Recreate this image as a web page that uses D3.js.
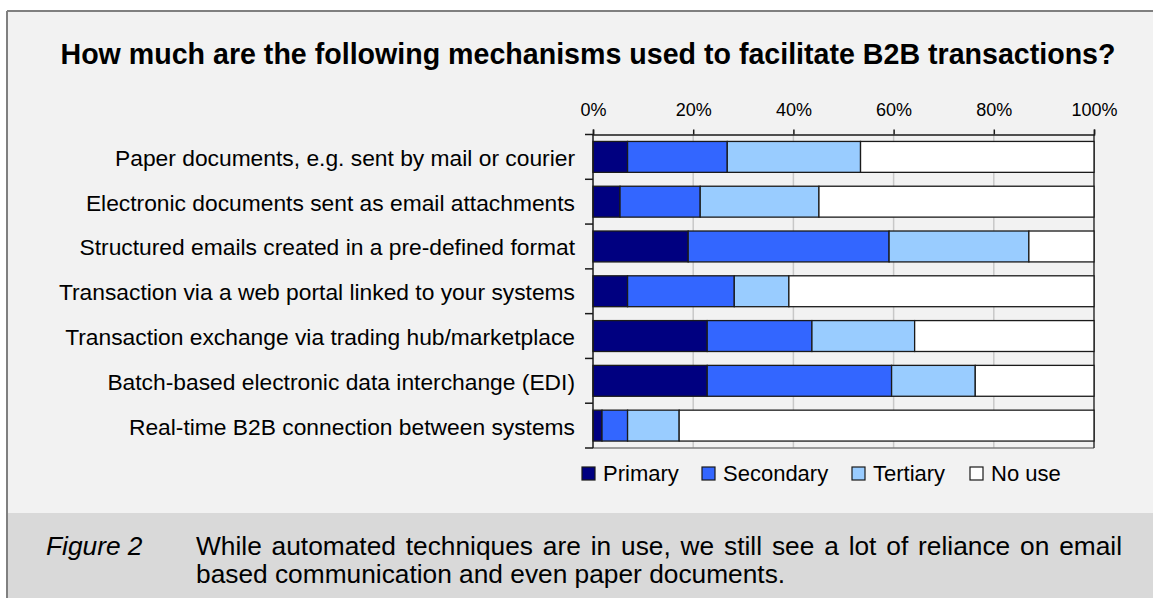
<!DOCTYPE html>
<html>
<head>
<meta charset="utf-8">
<script src="https://cdn.jsdelivr.net/npm/d3@7/dist/d3.min.js"></script>
<style>
  html, body { margin: 0; padding: 0; background: #ffffff; }
  svg { display: block; font-family: "Liberation Sans", Arial, sans-serif; }
</style>
</head>
<body>
<svg id="chart" width="1153" height="598"></svg>
<script>
// Survey categories (top to bottom)
const categories = [
  "Paper documents, e.g. sent by mail or courier",
  "Electronic documents sent as email attachments",
  "Structured emails created in a pre-defined format",
  "Transaction via a web portal linked to your systems",
  "Transaction exchange via trading hub/marketplace",
  "Batch-based electronic data interchange (EDI)",
  "Real-time B2B connection between systems"
];

// Share of respondents (%) per usage level
const seriesNames = ["Primary", "Secondary", "Tertiary", "No use"];
const primary   = [6.9, 5.4, 19.0, 6.9, 22.8, 22.8, 1.8];
const secondary = [19.9, 16.0, 40.1, 21.3, 20.9, 36.8, 5.1];
const tertiary  = [26.6, 23.7, 27.9, 10.9, 20.5, 16.7, 10.3];
const noUse     = [46.6, 54.9, 13.0, 60.9, 35.8, 23.7, 82.8];

const tickValues = [0, 20, 40, 60, 80, 100];
const colors = ["#000080", "#3366ff", "#99ccff", "#ffffff"];

const titleText = "How much are the following mechanisms used to facilitate B2B transactions?";
const figureLabel = "Figure 2";
const captionLines = [
  "While automated techniques are in use, we still see a lot of reliance on email",
  "based communication and even paper documents."
];

const svg = d3.select("#chart");
const W = 1153, H = 598;

// Panel backgrounds
svg.append("rect").attr("x", 7).attr("y", 11).attr("width", W - 7).attr("height", 502).attr("fill", "#f2f2f2");
svg.append("rect").attr("x", 7).attr("y", 513).attr("width", W - 7).attr("height", H - 513).attr("fill", "#d9d9d9");
svg.append("line").attr("x1", 7).attr("x2", W).attr("y1", 11).attr("y2", 11).attr("stroke", "#808080").attr("stroke-width", 2);
svg.append("line").attr("x1", 7).attr("x2", 7).attr("y1", 11).attr("y2", H).attr("stroke", "#808080").attr("stroke-width", 2);

// Title
svg.append("text")
  .attr("x", 588).attr("y", 64)
  .attr("text-anchor", "middle")
  .attr("font-size", 28.6).attr("font-weight", "bold").attr("fill", "#000")
  .text(titleText);

// Plot area
const plot = { left: 593, right: 1094, top: 134.5, bottom: 448 };

const x = d3.scaleLinear().domain([0, 100]).range([plot.left, plot.right]);
const y = d3.scaleBand().domain(categories).range([plot.top, plot.bottom])
  .paddingInner(0.31).paddingOuter(0.155);

const rows = categories.map((c, i) => ({
  category: c, Primary: primary[i], Secondary: secondary[i], Tertiary: tertiary[i], "No use": noUse[i]
}));
const stacked = d3.stack().keys(seriesNames)(rows);

const g = svg.append("g");

// Vertical gridlines
g.selectAll("line.grid").data(tickValues.filter(v => v > 0 && v < 100)).enter()
  .append("line").attr("class", "grid")
  .attr("x1", d => x(d)).attr("x2", d => x(d))
  .attr("y1", plot.top).attr("y2", plot.bottom)
  .attr("stroke", "#c8c8c8").attr("stroke-width", 1.5);

// Bottom frame
g.append("line").attr("x1", plot.left).attr("x2", plot.right)
  .attr("y1", plot.bottom).attr("y2", plot.bottom)
  .attr("stroke", "#7f7f7f").attr("stroke-width", 1.5);
// Right frame
g.append("line").attr("x1", plot.right).attr("x2", plot.right)
  .attr("y1", plot.top).attr("y2", plot.bottom)
  .attr("stroke", "#333").attr("stroke-width", 1.5);

// Stacked bars
g.selectAll("g.series").data(stacked).enter()
  .append("g").attr("class", "series")
  .attr("fill", (d, i) => colors[i])
  .selectAll("rect").data(d => d).enter()
  .append("rect")
  .attr("x", d => x(d[0]))
  .attr("width", d => x(d[1]) - x(d[0]))
  .attr("y", d => y(d.data.category))
  .attr("height", y.bandwidth())
  .attr("stroke", "#1a1a1a").attr("stroke-width", 1.3);

// Top axis
const xAxis = d3.axisTop(x).tickValues(tickValues).tickFormat(d => d + "%").tickSize(5).tickPadding(14);
const ax = svg.append("g").attr("transform", `translate(0,${plot.top})`).call(xAxis);
ax.select(".domain").attr("stroke", "#1a1a1a").attr("stroke-width", 1.5);
ax.selectAll(".tick line").attr("stroke", "#1a1a1a").attr("stroke-width", 1.5);
ax.selectAll(".tick text").attr("font-size", 18).attr("fill", "#000")
  .attr("font-family", "Liberation Sans, Arial, sans-serif");

// Left axis line with ticks at category boundaries
const step = y.step();
const boundaries = d3.range(categories.length + 1).map(i => plot.top + i * step);
g.append("line").attr("x1", plot.left).attr("x2", plot.left)
  .attr("y1", plot.top).attr("y2", plot.bottom)
  .attr("stroke", "#1a1a1a").attr("stroke-width", 1.5);
g.selectAll("line.ytick").data(boundaries).enter()
  .append("line").attr("class", "ytick")
  .attr("x1", plot.left - 8).attr("x2", plot.left)
  .attr("y1", d => d).attr("y2", d => d)
  .attr("stroke", "#1a1a1a").attr("stroke-width", 1.5);

// Category labels
svg.selectAll("text.cat").data(categories).enter()
  .append("text").attr("class", "cat")
  .attr("x", 575)
  .attr("y", d => y(d) + y.bandwidth() / 2 + 9)
  .attr("text-anchor", "end")
  .attr("font-size", 22.8).attr("fill", "#000")
  .text(d => d);

// Legend
const legendX = [582, 702, 852, 970];
const legend = svg.append("g");
seriesNames.forEach((name, i) => {
  legend.append("rect")
    .attr("x", legendX[i]).attr("y", 467).attr("width", 13).attr("height", 13)
    .attr("fill", colors[i]).attr("stroke", "#1a1a1a").attr("stroke-width", 1.2);
  legend.append("text")
    .attr("x", legendX[i] + 21).attr("y", 481)
    .attr("font-size", 22).attr("fill", "#000")
    .text(name);
});

// Figure caption: first line justified to the right margin
svg.append("text")
  .attr("x", 46).attr("y", 555)
  .attr("font-size", 26.3).attr("font-style", "italic").attr("fill", "#000")
  .text(figureLabel);
const capRight = 1122, capLeft = 196;
svg.selectAll("text.caption").data(captionLines).enter()
  .append("text").attr("class", "caption")
  .attr("x", capLeft).attr("y", (d, i) => 555 + i * 28)
  .attr("font-size", 26.3).attr("fill", "#000")
  .text(d => d)
  .each(function(d, i) {
    if (i < captionLines.length - 1) {
      const natural = this.getComputedTextLength();
      const spaces = (d.match(/ /g) || []).length;
      const extra = (capRight - capLeft - natural) / spaces;
      if (extra > 0) d3.select(this).attr("word-spacing", extra);
    }
  });
</script>
</body>
</html>
